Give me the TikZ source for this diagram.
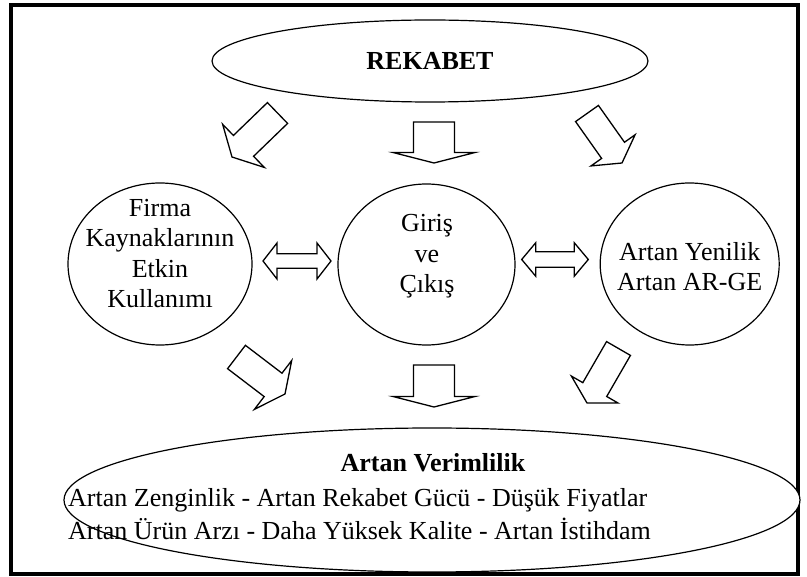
\documentclass[tikz,border=0pt]{standalone}
\usepackage{fontspec}
\setmainfont{Liberation Serif}
\usetikzlibrary{shapes.geometric,calc}

% Hollow block arrows drawn from a tail coordinate to a tip coordinate.
% ba s = half shaft width, ba h = half head width, ba l = head length.
\tikzset{
  ba s/.store in=\baS, ba h/.store in=\baH, ba l/.store in=\baL,
  ba s=14pt, ba h=28pt, ba l=15pt,
  blockarrow/.style={draw, line width=1.3pt, line join=miter, fill=white,
    to path={
      ($(\tikztostart)!\baS!-90:(\tikztotarget)$)
      -- ($(\tikztotarget)!\baL!(\tikztostart)!\baS!90:(\tikztostart)$)
      -- ($(\tikztotarget)!\baL!(\tikztostart)!\baH!90:(\tikztostart)$)
      -- (\tikztotarget)
      -- ($(\tikztotarget)!\baL!(\tikztostart)!\baH!-90:(\tikztostart)$)
      -- ($(\tikztotarget)!\baL!(\tikztostart)!\baS!-90:(\tikztostart)$)
      -- ($(\tikztostart)!\baS!90:(\tikztotarget)$)
      -- cycle}},
  dblarrow/.style={draw, line width=1.3pt, line join=miter, fill=white,
    to path={
      (\tikztostart)
      -- ($(\tikztostart)!\baL!(\tikztotarget)!\baH!90:(\tikztotarget)$)
      -- ($(\tikztostart)!\baL!(\tikztotarget)!\baS!90:(\tikztotarget)$)
      -- ($(\tikztotarget)!\baL!(\tikztostart)!\baS!-90:(\tikztostart)$)
      -- ($(\tikztotarget)!\baL!(\tikztostart)!\baH!-90:(\tikztostart)$)
      -- (\tikztotarget)
      -- ($(\tikztotarget)!\baL!(\tikztostart)!\baH!90:(\tikztostart)$)
      -- ($(\tikztotarget)!\baL!(\tikztostart)!\baS!90:(\tikztostart)$)
      -- ($(\tikztostart)!\baL!(\tikztotarget)!\baS!-90:(\tikztotarget)$)
      -- ($(\tikztostart)!\baL!(\tikztotarget)!\baH!-90:(\tikztotarget)$)
      -- cycle}},
  oval/.style={draw, line width=1.2pt, ellipse, inner sep=0pt, fill=white},
  circtext/.style={inner sep=0pt, align=center, anchor=north,
    font=\fontsize{26}{30.5}\selectfont},
}

\begin{document}
\begin{tikzpicture}[x=1pt, y=-1pt]
  \useasboundingbox (0,0) rectangle (807,577);
  \fill[white] (0,0) rectangle (807,577);
  \draw[line width=3.5pt] (11,5) rectangle (798,574);

  % top oval
  \node[oval, minimum width=436pt, minimum height=82pt,
        font=\fontsize{26}{30}\selectfont\bfseries] (rek) at (430,61) {REKABET};

  % middle row of ovals
  \node[oval, minimum width=184pt, minimum height=162pt] (firma) at (160,264) {};
  \node[oval, minimum width=177pt, minimum height=161pt] (giris) at (426.5,264.5) {};
  \node[oval, minimum width=179pt, minimum height=162pt] (yenilik) at (689.7,264) {};
  \node[circtext] (firmaT) at (160,199) {Firma\\Kaynaklarının\\Etkin\\Kullanımı};
  \node[circtext] (girisT) at (427,214.5) {Giriş\\ve\\Çıkış};
  \node[circtext] (yenilikT) at (689.7,242) {Artan Yenilik\\Artan AR-GE};

  % bottom oval
  \node[oval, minimum width=736pt, minimum height=144pt] (verim) at (432,500) {};
  \node[inner sep=0pt, anchor=base, font=\fontsize{26}{30}\selectfont\bfseries]
    (verimT) at (433,472) {Artan Verimlilik};
  \node[inner sep=0pt, anchor=north west, align=left,
        font=\fontsize{26}{33}\selectfont] (sonuc) at (68,488)
    {Artan Zenginlik - Artan Rekabet Gücü - Düşük Fiyatlar\\
     Artan Ürün Arzı - Daha Yüksek Kalite - Artan İstihdam};

  % arrow end points
  \coordinate (a1t) at (277.5,113);  \coordinate (a1h) at (232,157);
  \coordinate (a2t) at (434,122);    \coordinate (a2h) at (434,163);
  \coordinate (a3t) at (587,113.5);  \coordinate (a3h) at (622,163);
  \coordinate (b1t) at (236.5,357);  \coordinate (b1h) at (285,394);
  \coordinate (b2t) at (434,365);    \coordinate (b2h) at (434,407);
  \coordinate (b3t) at (618.5,348.5);\coordinate (b3h) at (587,403);
  \coordinate (d1a) at (263,261);    \coordinate (d1b) at (331,261);
  \coordinate (d2a) at (521.7,259.5);\coordinate (d2b) at (588.3,259.5);

  % arrows from the top oval
  \draw[blockarrow, ba s=14.5pt, ba h=30pt, ba l=16pt] (a1t) to (a1h);
  \draw[blockarrow, ba s=20.5pt, ba h=41pt, ba l=10.5pt] (a2t) to (a2h);
  \draw[blockarrow, ba s=14pt, ba h=27pt, ba l=15.5pt] (a3t) to (a3h);

  % arrows into the bottom oval
  \draw[blockarrow, ba s=14.7pt, ba h=30.7pt, ba l=15pt] (b1t) to (b1h);
  \draw[blockarrow, ba s=20.5pt, ba h=41pt, ba l=10.5pt] (b2t) to (b2h);
  \draw[blockarrow, ba s=13.8pt, ba h=27pt, ba l=15.5pt] (b3t) to (b3h);

  % two-way arrows between the middle ovals
  \draw[dblarrow, ba s=7.3pt, ba h=18pt, ba l=14pt] (d1a) to (d1b);
  \draw[dblarrow, ba s=7.8pt, ba h=16.7pt, ba l=14pt] (d2a) to (d2b);
\end{tikzpicture}
\end{document}
